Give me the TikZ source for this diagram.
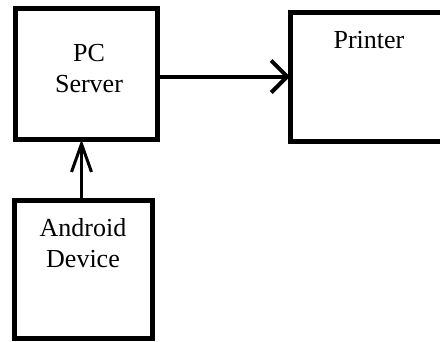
\documentclass[tikz,border=0pt]{standalone}
\usepackage{fontspec}
\setmainfont{Liberation Serif}
\usetikzlibrary{arrows.meta}
\begin{document}
\begin{tikzpicture}[x=1pt,y=-1pt,
  box/.style={draw=black, line width=5pt, rectangle, outer sep=0pt, inner sep=0pt},
  lbl/.style={font=\fontsize{26}{31}\selectfont, align=center, inner sep=0pt},
  harrow/.style={line width=4pt, -{Straight Barb[length=16pt,width=32pt]}},
  varrow/.style={line width=3pt, -{Straight Barb[length=28pt,width=20pt]}}]
\clip (0,0) rectangle (440,341);
\fill[white] (0,0) rectangle (440,341);
\node[box, minimum width=141.5pt, minimum height=131.5pt] (pc) at (86.25,73.75) {};
\node[box, minimum width=180pt, minimum height=129pt] (printer) at (380,76.5) {};
\node[box, minimum width=138pt, minimum height=137.5pt] (android) at (83.5,269.25) {};
\node[lbl] (pct) at (89,69) {PC\\Server};
\node[lbl, anchor=base] (prt) at (369,48) {Printer};
\node[lbl] (ant) at (83,243) {Android\\Device};
\draw[harrow] (pc.east |- printer.west) -- (printer.west);
\draw[varrow] ([xshift=-2pt]android.north) -- ([xshift=-2pt]android.north |- pc.south);
\end{tikzpicture}
\end{document}
